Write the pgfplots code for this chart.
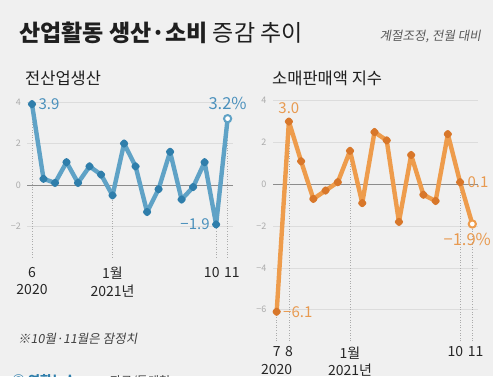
\documentclass[border=0pt]{standalone}
\usepackage{fontspec}
\usepackage{pgfplots}
\pgfplotsset{compat=1.18}
\setmainfont{Noto Sans CJK KR}
\newfontfamily\krit[FakeSlant=0.18]{Noto Sans CJK KR}
\definecolor{bg}{HTML}{F0F0F0}
\definecolor{bline}{HTML}{5FA2C6}
\definecolor{bdot}{HTML}{2F7EAB}
\definecolor{btxt}{HTML}{4A90BC}
\definecolor{oline}{HTML}{EE9C4C}
\definecolor{odot}{HTML}{D8772A}
\definecolor{otxt}{HTML}{E89A50}
\definecolor{tickgray}{HTML}{ABABAB}
\definecolor{gridgray}{HTML}{DCDCDC}
\definecolor{zerogray}{HTML}{8C8C8C}
\pgfplotsset{
  base/.style={
    scale only axis, anchor=south west, clip=false,
    axis line style={draw=none}, major tick length=0pt,
    ymajorgrids, grid style={draw=gridgray, line width=0.6pt},
    yticklabel style={font=\fontsize{9}{9}\selectfont, text=tickgray, xshift=-3pt},
    xticklabel style={font=\fontsize{14}{17.5}\selectfont, text=black!85, align=center, anchor=north},
    extra y ticks={0}, extra y tick labels={0},
    extra y tick style={grid style={draw=zerogray, line width=0.8pt}},
  },
  guide/.style={dotted, draw=tickgray, line width=0.6pt, forget plot},
}
\begin{document}
\begin{tikzpicture}[x=1pt,y=1pt]
\clip (0,0) rectangle (493,376);
\fill[bg] (0,0) rectangle (493,376);
% titles
\node[anchor=base west, inner sep=0pt, text=black!88] at (19,335) {\fontsize{23}{26}\selectfont\textbf{산업활동 생산·소비} 증감 추이};
\node[anchor=base east, inner sep=0pt, text=black!65] at (481,336) {\krit\fontsize{12.5}{14}\selectfont 계절조정, 전월 대비};
\node[anchor=base west, inner sep=0pt, text=black!88] at (25,292) {\fontsize{16.5}{18}\selectfont 전산업생산};
\node[anchor=base west, inner sep=0pt, text=black!88] at (272,292) {\fontsize{16.5}{18}\selectfont 소매판매액 지수};
\node[anchor=base west, inner sep=0pt, text=black!75] at (18,33) {\krit\fontsize{12.5}{14}\selectfont ※10월·11월은 잠정치};
\node[anchor=base west, inner sep=0pt, text=bdot] at (12,-9) {\fontsize{13}{14}\selectfont\textbf{◉ 연합뉴스}};
\node[anchor=base west, inner sep=0pt, text=black!75] at (110,-9) {\fontsize{12}{14}\selectfont 자료/통계청};

% left chart
\begin{axis}[base, at={(27.4pt,118.4pt)}, width=205.4pt, height=159.7pt,
  xmin=-0.4, xmax=17.45, ymin=-3.5, ymax=4.2,
  ytick={-2,2,4}, yticklabels={−2,2,4},
  xtick={0,7,16.5}, xticklabels={6\\2020, 1월\\2021년, 10\,\,11},
  xticklabel style={yshift=-6pt}]
\addplot[guide] coordinates {(0,-3.5) (0,3.9)};
\addplot[guide] coordinates {(7,-3.5) (7,-0.5)};
\addplot[guide] coordinates {(16,-3.5) (16,-1.9)};
\addplot[guide] coordinates {(17,-3.5) (17,3.2)};
\addplot[bline, line width=4.4pt, line join=round, line cap=round, mark=*, mark size=1.9pt, mark options={bdot, draw=none, fill=bdot}] coordinates {
(0,3.9) (1,0.3) (2,0.1) (3,1.1) (4,0.1) (5,0.9) (6,0.5) (7,-0.5) (8,2.0) (9,0.9)
(10,-1.3) (11,-0.2) (12,1.6) (13,-0.7) (14,-0.1) (15,1.1) (16,-1.9) (17,3.2)};
\addplot[only marks, mark=*, mark size=3.6pt, mark options={draw=bline, fill=white, line width=2pt}] coordinates {(17,3.2)};
\node[anchor=west, text=btxt, font=\fontsize{15}{16}\selectfont, xshift=3pt] at (axis cs:0,3.9) {3.9};
\node[anchor=south, text=btxt, font=\fontsize{16.5}{17}\selectfont, yshift=5pt] at (axis cs:17,3.2) {3.2\%};
\node[anchor=east, text=btxt, font=\fontsize{15}{16}\selectfont, xshift=-3pt] at (axis cs:16,-1.9) {−1.9};
\end{axis}

% right chart
\begin{axis}[base, at={(273pt,35pt)}, width=204.8pt, height=244.5pt,
  xmin=-0.3, xmax=16.45, ymin=-7.5, ymax=4.2,
  ytick={-6,-4,-2,2,4}, yticklabels={−6,−4,−2,2,4},
  xtick={0,1,6,15.44}, xticklabels={7\\2020, 8, 1월\\2021년, 10\,\,11},
  xticklabel style={yshift=-2pt}]
\addplot[guide] coordinates {(0,-7.5) (0,-6.1)};
\addplot[guide] coordinates {(1,-7.5) (1,3.0)};
\addplot[guide] coordinates {(6,-7.5) (6,1.6)};
\addplot[guide] coordinates {(15,-7.5) (15,0.1)};
\addplot[guide] coordinates {(16,-7.5) (16,-1.9)};
\addplot[oline, line width=4.4pt, line join=round, line cap=round, mark=*, mark size=1.9pt, mark options={odot, draw=none, fill=odot}] coordinates {
(0,-6.1) (1,3.0) (2,1.1) (3,-0.7) (4,-0.3) (5,0.1) (6,1.6) (7,-0.9) (8,2.5) (9,2.1)
(10,-1.8) (11,1.4) (12,-0.5) (13,-0.8) (14,2.4) (15,0.1) (16,-1.9)};
\addplot[only marks, mark=*, mark size=3.6pt, mark options={draw=oline, fill=white, line width=2pt}] coordinates {(16,-1.9)};
\node[anchor=south, text=otxt, font=\fontsize{15}{16}\selectfont, yshift=4pt] at (axis cs:1,3.0) {3.0};
\node[anchor=west, text=otxt, font=\fontsize{15}{16}\selectfont, xshift=4pt] at (axis cs:15,0.1) {0.1};
\node[anchor=north, text=otxt, font=\fontsize{16.5}{17}\selectfont, yshift=-6pt, xshift=-5pt] at (axis cs:16,-1.9) {−1.9\%};
\node[anchor=west, text=otxt, font=\fontsize{15}{16}\selectfont, xshift=3pt] at (axis cs:0,-6.1) {−6.1};
\end{axis}
\end{tikzpicture}
\end{document}
